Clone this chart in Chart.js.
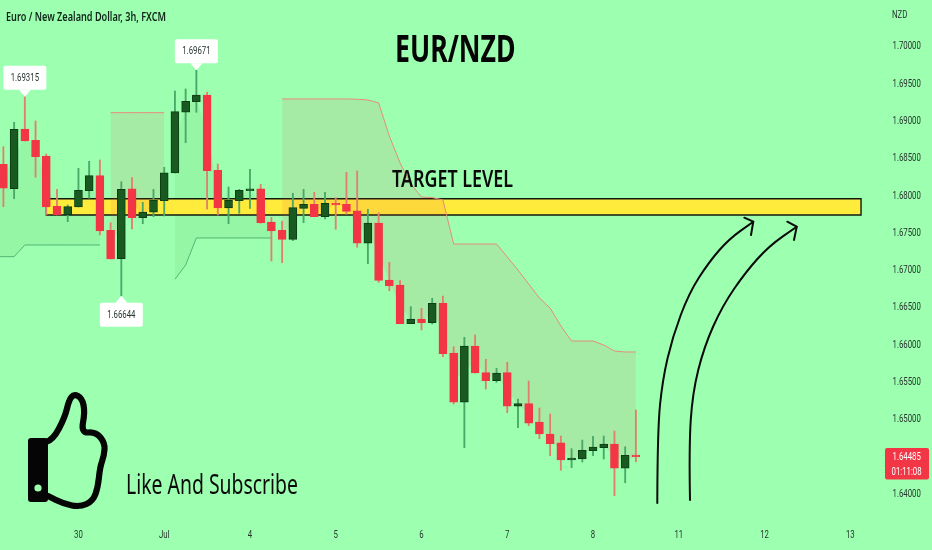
<!DOCTYPE html>
<html>
<head>
<meta charset="utf-8">
<title>EUR/NZD</title>
<script src="https://cdn.jsdelivr.net/npm/chart.js"></script>
<style>
  html, body { margin: 0; padding: 0; background: #9dffb0; }
  canvas { display: block; }
</style>
</head>
<body>
<canvas id="chart" width="932" height="550"></canvas>
<script>
const opens = [
  1.68408, 1.68081, 1.68882, 1.68730, 1.68519, 1.67844, 1.67728, 1.67835, 1.68054, 1.68255,
  1.67522, 1.67141, 1.68077, 1.67691, 1.67764, 1.67919, 1.68291, 1.69106, 1.69248, 1.69338,
  1.68328, 1.67821, 1.67919, 1.68054, 1.68077, 1.67634, 1.67522, 1.67401, 1.67817, 1.67871,
  1.67705, 1.67885, 1.67871, 1.67785, 1.67348, 1.67620, 1.66855, 1.66788, 1.66268, 1.66332,
  1.66282, 1.66542, 1.65875, 1.65217, 1.65969, 1.65611, 1.65503, 1.65611, 1.65160, 1.65195,
  1.64949, 1.64788, 1.64671, 1.64439, 1.64452, 1.64564, 1.64604, 1.64654, 1.64328, 1.64505
];
const highs = [
  1.68644, 1.68972, 1.69315, 1.68989, 1.68546, 1.68072, 1.67862, 1.68354, 1.68448, 1.68466,
  1.67624, 1.68174, 1.68228, 1.67898, 1.68072, 1.68368, 1.69392, 1.69419, 1.69671, 1.69375,
  1.68412, 1.68103, 1.68072, 1.68341, 1.68140, 1.67697, 1.67643, 1.68019, 1.68072, 1.68032,
  1.68032, 1.67960, 1.68301, 1.68318, 1.67804, 1.67758, 1.67093, 1.66846, 1.66497, 1.66475,
  1.66609, 1.66640, 1.65960, 1.66086, 1.66117, 1.65791, 1.65670, 1.65750, 1.65258, 1.65499,
  1.65137, 1.65056, 1.64761, 1.64591, 1.64707, 1.64757, 1.64761, 1.64828, 1.64617, 1.65110
];
const lows = [
  1.67839, 1.67946, 1.68721, 1.68234, 1.67728, 1.67728, 1.67638, 1.67835, 1.67952, 1.67459,
  1.67137, 1.66644, 1.67540, 1.67611, 1.67705, 1.67714, 1.68291, 1.68698, 1.69106, 1.67808,
  1.67728, 1.67611, 1.67750, 1.67817, 1.67616, 1.67110, 1.67087, 1.67383, 1.67624, 1.67705,
  1.67674, 1.67536, 1.67737, 1.67294, 1.67074, 1.66824, 1.66711, 1.66268, 1.66268, 1.66184,
  1.66264, 1.65825, 1.65191, 1.64604, 1.65607, 1.65392, 1.65482, 1.65074, 1.64872, 1.64899,
  1.64725, 1.64497, 1.64301, 1.64336, 1.64412, 1.64497, 1.64452, 1.63960, 1.64134, 1.64416
];
const closes = [
  1.68086, 1.68878, 1.68721, 1.68510, 1.67835, 1.67728, 1.67839, 1.68059, 1.68255, 1.67513,
  1.67137, 1.68072, 1.67691, 1.67768, 1.67925, 1.68295, 1.69114, 1.69254, 1.69338, 1.68322,
  1.67821, 1.67925, 1.68059, 1.68077, 1.67624, 1.67513, 1.67401, 1.67826, 1.67871, 1.67705,
  1.67885, 1.67862, 1.67777, 1.67348, 1.67620, 1.66851, 1.66779, 1.66268, 1.66332, 1.66282,
  1.66542, 1.65866, 1.65217, 1.65969, 1.65607, 1.65503, 1.65607, 1.65160, 1.65195, 1.64935,
  1.64788, 1.64658, 1.64439, 1.64466, 1.64569, 1.64613, 1.64654, 1.64328, 1.64502, 1.64485
];

// supertrend style stop line, one list per colour
const stopUp = [
  1.67168, 1.67168, 1.67325, 1.67325, 1.67325, 1.67325, 1.67325, 1.67325, 1.67325, 1.67325,
  null, null, null, null, null, null, 1.66864, 1.67056, 1.67419, 1.67419,
  1.67419, 1.67419, 1.67419, 1.67419, 1.67419, 1.67419, null, null, null, null,
  null, null, null, null, null, null, null, null, null, null,
  null, null, null, null, null, null, null, null, null, null,
  null, null, null, null, null, null, null, null, null, null
];
const stopDown = [
  null, null, null, null, null, null, null, null, null, null,
  1.69101, 1.69101, 1.69101, 1.69101, 1.69101, 1.69101, null, null, null, null,
  null, null, null, null, null, null, 1.69285, 1.69285, 1.69285, 1.69285,
  1.69285, 1.69285, 1.69285, 1.69281, 1.69271, 1.69231, 1.68788, 1.68426, 1.68144, 1.67969,
  1.67962, 1.67929, 1.67338, 1.67338, 1.67338, 1.67338, 1.67338, 1.67164, 1.66989, 1.66801,
  1.66613, 1.66479, 1.66238, 1.66036, 1.66036, 1.66036, 1.65983, 1.65902, 1.65889, 1.65889
];

const tickIndexes = [7, 15, 23, 31, 39, 47, 55, 63, 71, 79];
const tickLabels = ['30', 'Jul', '4', '5', '6', '7', '8', '11', '12', '13'];
const priceTicks = [1.70, 1.695, 1.69, 1.685, 1.68, 1.675, 1.67, 1.665, 1.66, 1.655, 1.65, 1.645, 1.64];

const targetTop = 1.67946;
const targetBottom = 1.67728;
const targetFrom = 4;
const targetTo = 80;

const callouts = [
  { index: 2, price: 1.69315, below: false },
  { index: 18, price: 1.69671, below: false },
  { index: 11, price: 1.66644, below: true }
];

const bull = '#185a20';
const bullEdge = '#0c3d14';
const bear = '#f23645';
const textColor = '#26352e';
const axisFont = '11.3px Roboto';

const indexes = opens.map((v, i) => i);
const isUp = i => closes[i] >= opens[i];
const mids = indexes.map(i => (opens[i] + closes[i]) / 2);
const midsFor = stop => stop.map((v, i) => (v === null ? null : mids[i]));
const points = list => list.map((v, i) => ({ x: i, y: v }));
// the first stop stretch runs on past the left edge of the chart
const leadIn = list => [{ x: -1, y: list[0] }].concat(points(list));

const ctx = document.getElementById('chart').getContext('2d');

function fitText(c, text, x, y, width, font, color) {
  c.save();
  c.font = font;
  c.fillStyle = color;
  c.textAlign = 'left';
  c.textBaseline = 'alphabetic';
  const w = c.measureText(text).width;
  c.translate(x, y);
  c.scale(width / w, 1);
  c.fillText(text, 0, 0);
  c.restore();
}

// the screenshot's labels are squeezed sideways, no narrow font installed
function squeezedText(c, text, x, y, color, align) {
  c.save();
  c.font = axisFont;
  c.fillStyle = color;
  c.textAlign = align || 'center';
  c.textBaseline = 'middle';
  c.translate(x, y + 1);
  c.scale(0.69, 1);
  c.fillText(text, 0, 0);
  c.restore();
}

function smoothPath(c, pts) {
  c.beginPath();
  c.moveTo(pts[0][0], pts[0][1]);
  for (let i = 1; i < pts.length - 1; i++) {
    const mx = (pts[i][0] + pts[i + 1][0]) / 2;
    const my = (pts[i][1] + pts[i + 1][1]) / 2;
    c.quadraticCurveTo(pts[i][0], pts[i][1], mx, my);
  }
  const last = pts[pts.length - 1];
  c.lineTo(last[0], last[1]);
}

function drawArrow(c, pts, head) {
  c.save();
  c.strokeStyle = '#0a0a0a';
  c.lineWidth = 2;
  c.lineCap = 'round';
  c.lineJoin = 'round';
  smoothPath(c, pts);
  c.stroke();
  c.beginPath();
  c.moveTo(head[0][0], head[0][1]);
  c.lineTo(head[1][0], head[1][1]);
  c.lineTo(head[2][0], head[2][1]);
  c.stroke();
  c.restore();
}

function drawThumb(c) {
  c.save();
  c.fillStyle = '#050505';
  c.strokeStyle = '#050505';
  c.lineWidth = 6.2;
  c.lineJoin = 'round';
  c.lineCap = 'round';
  smoothPath(c, [
    [46, 442], [53, 440], [65, 417], [69, 400], [74, 394], [82, 398], [85, 412], [81, 433],
    [96, 432], [105, 443], [104, 456], [100, 467], [98, 487], [93, 501], [80, 507], [64, 504], [48, 496]
  ]);
  c.stroke();
  c.beginPath();
  c.roundRect(28, 438, 20, 64, 3);
  c.fill();
  c.fillStyle = '#9dffb0';
  c.beginPath();
  c.arc(38, 488, 3.6, 0, Math.PI * 2);
  c.fill();
  c.restore();
}

function drawCallout(c, tipX, tipY, below, text) {
  const w = 43;
  const h = 24;
  const gap = 7;
  const left = tipX - w / 2;
  const top = below ? tipY + gap : tipY - gap - h;
  c.save();
  c.fillStyle = '#ffffff';
  c.beginPath();
  c.roundRect(left, top, w, h, 2);
  c.fill();
  c.beginPath();
  c.moveTo(tipX, tipY);
  c.lineTo(tipX - 6, below ? top : top + h);
  c.lineTo(tipX + 6, below ? top : top + h);
  c.closePath();
  c.fill();
  c.restore();
  squeezedText(c, text, tipX, top + h / 2 - 1, textColor);
}

const overlay = {
  id: 'overlay',
  afterDraw(chart) {
    const c = chart.ctx;
    const x = chart.scales.x;
    const y = chart.scales.y;

    priceTicks.forEach(v => {
      squeezedText(c, v.toFixed(5), 892.5, y.getPixelForValue(v), textColor, 'left');
    });
    tickIndexes.forEach((v, i) => {
      squeezedText(c, tickLabels[i], x.getPixelForValue(v), 534.5, textColor);
    });

    callouts.forEach(o => {
      drawCallout(c, x.getPixelForValue(o.index), y.getPixelForValue(o.price), o.below, o.price.toFixed(5));
    });

    drawArrow(c,
      [[657.3, 503], [657.5, 430], [662.5, 380], [672.5, 337], [689, 293], [709, 262], [729, 239], [753.3, 221.7]],
      [[744.3, 217.7], [753.3, 221.7], [751, 235]]);
    drawArrow(c,
      [[690, 500], [689, 447], [692.5, 393], [704, 347], [722.3, 306], [745.7, 272], [769, 246], [796.7, 226.7]],
      [[787.3, 221.7], [796.7, 226.7], [794, 240]]);

    drawThumb(c);

    fitText(c, 'Euro / New Zealand Dollar, 3h, FXCM', 6, 21, 160, '600 12.5px "Noto Sans"', '#10241a');
    fitText(c, 'EUR/NZD', 395, 62.3, 120.5, 'bold 38px "Noto Sans"', '#050505');
    fitText(c, 'TARGET LEVEL', 392, 187, 121, '600 23px "Noto Sans"', '#0a0a0a');
    fitText(c, 'Like And Subscribe', 126, 494, 172, '400 27px "Noto Sans"', '#0a0a0a');

    squeezedText(c, 'NZD', 892, 14, textColor, 'left');

    c.save();
    c.fillStyle = bear;
    c.beginPath();
    c.roundRect(885, 448, 44, 31.5, 2);
    c.fill();
    c.restore();
    squeezedText(c, closes[closes.length - 1].toFixed(5), 892.5, 456.5, '#ffffff', 'left');
    squeezedText(c, '01:11:08', 891.5, 471, '#ffffff', 'left');
  }
};

new Chart(ctx, {
  type: 'bar',
  data: {
    datasets: [
      // target zone, lowest layer
      {
        type: 'line',
        data: [{ x: targetFrom, y: targetBottom }, { x: targetTo, y: targetBottom }],
        borderWidth: 0,
        pointRadius: 0,
        fill: false,
        order: 8
      },
      {
        type: 'line',
        data: [{ x: targetFrom, y: targetTop }, { x: targetTo, y: targetTop }],
        borderWidth: 0,
        pointRadius: 0,
        backgroundColor: '#ffeb3b',
        fill: { target: 0 },
        order: 5
      },
      {
        type: 'line',
        data: [
          { x: targetFrom, y: targetTop }, { x: targetTo, y: targetTop },
          { x: targetTo, y: targetBottom }, { x: targetFrom, y: targetBottom },
          { x: targetFrom, y: targetTop }
        ],
        borderColor: '#111a10',
        borderWidth: 1.4,
        pointRadius: 0,
        fill: false,
        order: 4
      },
      // mids the stop shading closes against
      {
        type: 'line',
        data: leadIn(midsFor(stopUp)),
        borderWidth: 0,
        pointRadius: 0,
        fill: false,
        order: 9
      },
      {
        type: 'line',
        data: points(midsFor(stopDown)),
        borderWidth: 0,
        pointRadius: 0,
        fill: false,
        order: 9
      },
      {
        type: 'line',
        data: leadIn(stopUp),
        borderColor: '#53b574',
        borderWidth: 1,
        pointRadius: 0,
        backgroundColor: 'rgba(76, 175, 80, 0.1)',
        fill: { target: 3 },
        order: 6
      },
      {
        type: 'line',
        data: points(stopDown),
        borderColor: '#e58c7c',
        borderWidth: 1,
        pointRadius: 0,
        backgroundColor: 'rgba(242, 54, 69, 0.1)',
        fill: { target: 4 },
        order: 3
      },
      // wicks
      {
        data: indexes.map(i => ({ x: i, y: [lows[i], highs[i]] })),
        backgroundColor: indexes.map(i => (isUp(i) ? '#4aa868' : '#e0806f')),
        barThickness: 1.2,
        grouped: false,
        order: 2
      },
      // bodies
      {
        data: indexes.map(i => ({ x: i, y: [opens[i], closes[i]] })),
        backgroundColor: indexes.map(i => (isUp(i) ? bull : bear)),
        borderColor: indexes.map(i => (isUp(i) ? bullEdge : bear)),
        borderWidth: 1,
        borderSkipped: false,
        barThickness: 8,
        grouped: false,
        order: 1
      }
    ]
  },
  options: {
    responsive: false,
    animation: false,
    layout: { padding: 0, autoPadding: false },
    plugins: {
      legend: { display: false },
      tooltip: { enabled: false },
      title: { display: false }
    },
    scales: {
      x: {
        type: 'linear',
        offset: false,
        min: -0.317,
        max: 81.77,
        grid: { display: false },
        border: { display: false },
        afterFit(axis) {
          axis.height = 35;
        },
        ticks: { display: false }
      },
      y: {
        position: 'right',
        min: 1.63701,
        max: 1.70613,
        grid: { display: false },
        border: { display: false },
        afterFit(axis) {
          axis.width = 52;
        },
        ticks: { display: false }
      }
    }
  },
  plugins: [overlay]
});
</script>
</body>
</html>
